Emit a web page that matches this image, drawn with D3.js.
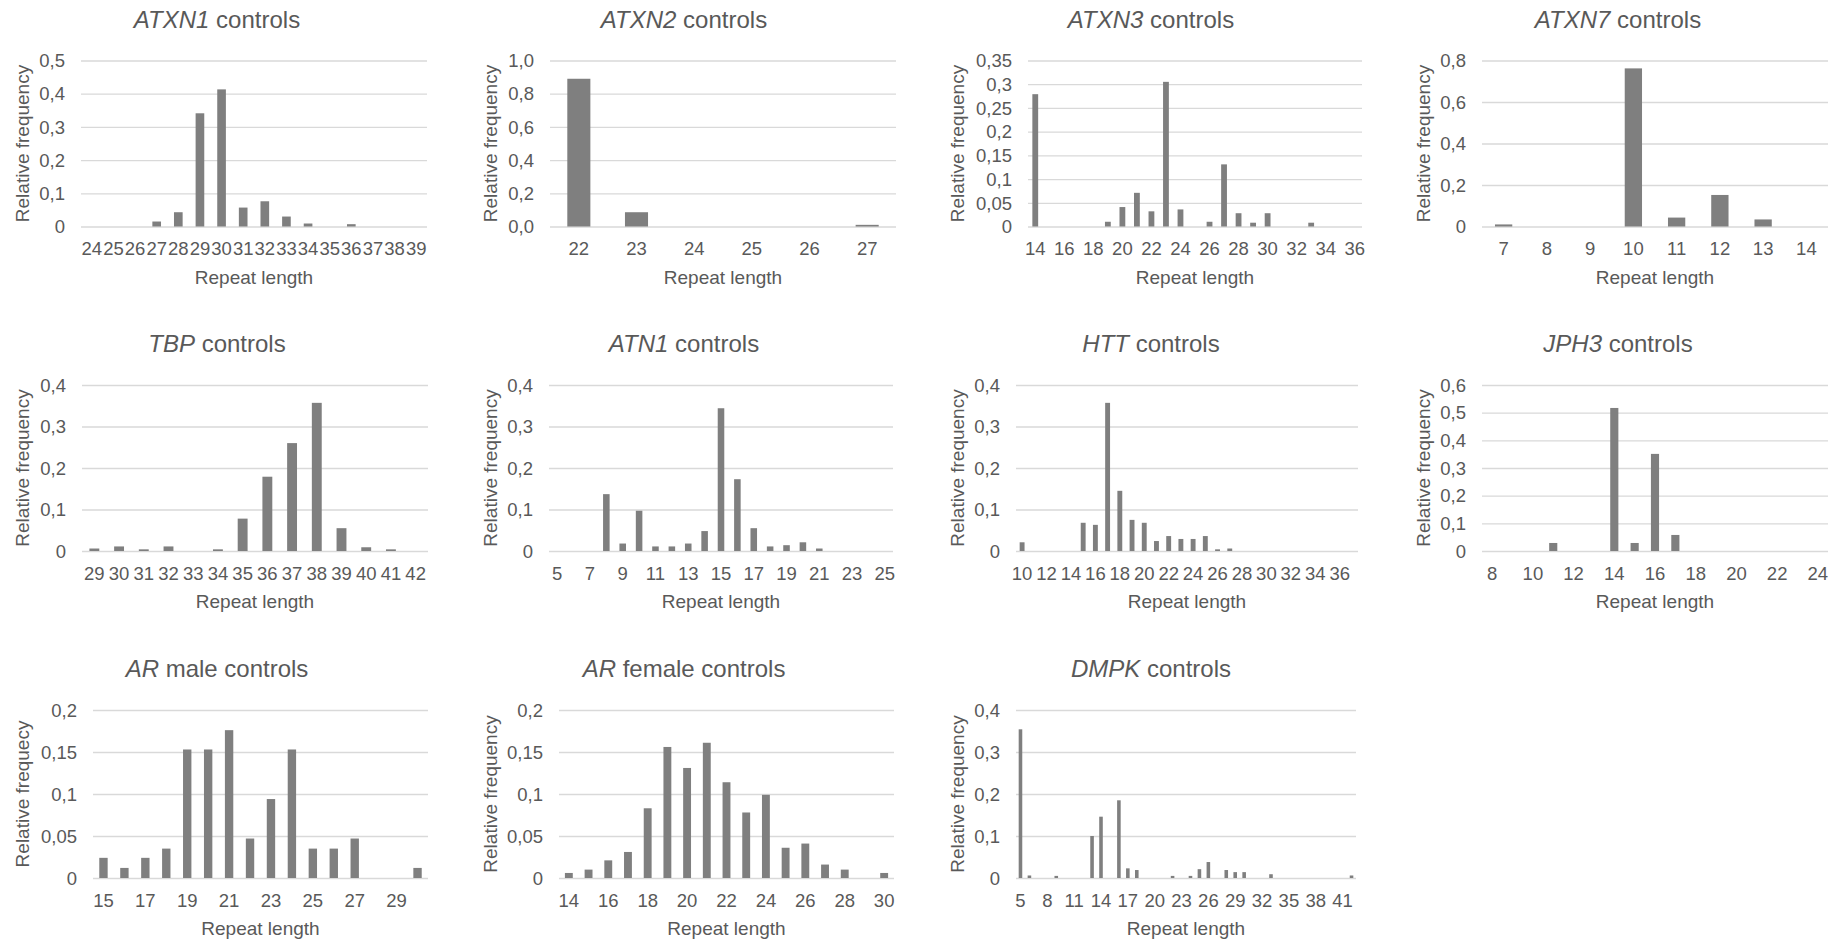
<!DOCTYPE html>
<html lang="en">
<head>
<meta charset="utf-8">
<title>Repeat length distributions in controls</title>
<script src="https://d3js.org/d3.v7.min.js"></script>
<style>
  body { margin: 0; background: #fff; }
  svg { display: block; font-family: "Liberation Sans", Arial, sans-serif; }
  .grid line { stroke: #d9d9d9; stroke-width: 1.3; }
  .grid path, .xaxis path { display: none; }
  .grid text, .xaxis text { fill: #595959; font-size: 18.5px; }
  .xaxis line { display: none; }
  .title { fill: #595959; font-size: 24px; }
  .axis-title { fill: #595959; font-size: 19px; }
  .bar { fill: #7f7f7f; }
</style>
</head>
<body>
<script>
// ---- data ----
const atxn1Lengths = [24,25,26,27,28,29,30,31,32,33,34,35,36,37,38,39];
const atxn1Freq = [0,0,0,0.015,0.043,0.341,0.413,0.057,0.076,0.030,0.009,0,0.007,0,0,0];

const atxn2Lengths = [22,23,24,25,26,27];
const atxn2Freq = [0.89,0.086,0,0,0,0.010];

const atxn3Lengths = [14,15,16,17,18,19,20,21,22,23,24,25,26,27,28,29,30,31,32,33,34,35,36];
const atxn3Freq = [0.279,0,0,0,0,0.010,0.041,0.071,0.032,0.305,0.036,0,0.010,0.131,0.028,0.008,0.028,0,0,0.008,0,0,0];

const atxn7Lengths = [7,8,9,10,11,12,13,14];
const atxn7Freq = [0.010,0,0,0.762,0.043,0.152,0.034,0];

const tbpLengths = [29,30,31,32,33,34,35,36,37,38,39,40,41,42];
const tbpFreq = [0.006,0.011,0.004,0.011,0,0.004,0.078,0.179,0.260,0.357,0.055,0.009,0.004,0];

const atn1Lengths = [5,6,7,8,9,10,11,12,13,14,15,16,17,18,19,20,21,22,23,24,25];
const atn1Freq = [0,0,0,0.137,0.018,0.097,0.011,0.011,0.018,0.048,0.344,0.173,0.055,0.011,0.014,0.021,0.006,0,0,0,0];

const httLengths = [10,11,12,13,14,15,16,17,18,19,20,21,22,23,24,25,26,27,28,29,30,31,32,33,34,35,36,37];
const httFreq = [0.021,0,0,0,0,0.068,0.063,0.357,0.145,0.075,0.068,0.024,0.036,0.029,0.029,0.036,0.004,0.006,0,0,0,0,0,0,0,0,0,0];

const jph3Lengths = [8,9,10,11,12,13,14,15,16,17,18,19,20,21,22,23,24];
const jph3Freq = [0,0,0,0.029,0,0,0.517,0.029,0.351,0.058,0,0,0,0,0,0,0];

const arMaleLengths = [15,16,17,18,19,20,21,22,23,24,25,26,27,28,29,30];
const arMaleFreq = [0.024,0.012,0.024,0.035,0.153,0.153,0.176,0.047,0.094,0.153,0.035,0.035,0.047,0,0,0.012];

const arFemaleLengths = [14,15,16,17,18,19,20,21,22,23,24,25,26,27,28,29,30];
const arFemaleFreq = [0.006,0.010,0.021,0.031,0.083,0.156,0.131,0.161,0.114,0.078,0.099,0.036,0.041,0.016,0.010,0,0.006];

const dmpkLengths = [5,6,7,8,9,10,11,12,13,14,15,16,17,18,19,20,21,22,23,24,25,26,27,28,29,30,31,32,33,34,35,36,37,38,39,40,41,42];
const dmpkFreq = [0.354,0.006,0,0,0.005,0,0,0,0.100,0.146,0,0.185,0.023,0.019,0,0,0,0.005,0,0.005,0.021,0.038,0,0.019,0.014,0.014,0,0,0.009,0,0,0,0,0,0,0,0,0.006];

// tick labels
const yTicks01 = [0,0.1,0.2,0.3,0.4];
const yLabels01 = ["0","0,1","0,2","0,3","0,4"];
const atxn1YTicks = [0,0.1,0.2,0.3,0.4,0.5];
const atxn1YLabels = ["0","0,1","0,2","0,3","0,4","0,5"];
const atxn2YTicks = [0,0.2,0.4,0.6,0.8,1.0];
const atxn2YLabels = ["0,0","0,2","0,4","0,6","0,8","1,0"];
const atxn3YTicks = [0,0.05,0.1,0.15,0.2,0.25,0.3,0.35];
const atxn3YLabels = ["0","0,05","0,1","0,15","0,2","0,25","0,3","0,35"];
const atxn7YTicks = [0,0.2,0.4,0.6,0.8];
const atxn7YLabels = ["0","0,2","0,4","0,6","0,8"];
const jph3YTicks = [0,0.1,0.2,0.3,0.4,0.5,0.6];
const jph3YLabels = ["0","0,1","0,2","0,3","0,4","0,5","0,6"];
const arYTicks = [0,0.05,0.1,0.15,0.2];
const arYLabels = ["0","0,05","0,1","0,15","0,2"];

const atxn3XTicks = [14,16,18,20,22,24,26,28,30,32,34,36];
const atn1XTicks = [5,7,9,11,13,15,17,19,21,23,25];
const httXTicks = [10,12,14,16,18,20,22,24,26,28,30,32,34,36];
const jph3XTicks = [8,10,12,14,16,18,20,22,24];
const arMaleXTicks = [15,17,19,21,23,25,27,29];
const arFemaleXTicks = [14,16,18,20,22,24,26,28,30];
const dmpkXTicks = [5,8,11,14,17,20,23,26,29,32,35,38,41];

// ---- panels ----
const panels = [
  {gene: "ATXN1", rest: " controls", ylab: "Relative frequency", x: atxn1Lengths, y: atxn1Freq, yt: atxn1YTicks, yl: atxn1YLabels, xt: atxn1Lengths, row: 0, col: 0, left: 81, right: 427},
  {gene: "ATXN2", rest: " controls", ylab: "Relative frequency", x: atxn2Lengths, y: atxn2Freq, yt: atxn2YTicks, yl: atxn2YLabels, xt: atxn2Lengths, row: 0, col: 1, left: 550, right: 896},
  {gene: "ATXN3", rest: " controls", ylab: "Relative frequency", x: atxn3Lengths, y: atxn3Freq, yt: atxn3YTicks, yl: atxn3YLabels, xt: atxn3XTicks, row: 0, col: 2, left: 1028, right: 1362},
  {gene: "ATXN7", rest: " controls", ylab: "Relative frequency", x: atxn7Lengths, y: atxn7Freq, yt: atxn7YTicks, yl: atxn7YLabels, xt: atxn7Lengths, row: 0, col: 3, left: 1482, right: 1828},
  {gene: "TBP", rest: " controls", ylab: "Relative frequency", x: tbpLengths, y: tbpFreq, yt: yTicks01, yl: yLabels01, xt: tbpLengths, row: 1, col: 0, left: 82, right: 428},
  {gene: "ATN1", rest: " controls", ylab: "Relative frequency", x: atn1Lengths, y: atn1Freq, yt: yTicks01, yl: yLabels01, xt: atn1XTicks, row: 1, col: 1, left: 549, right: 893},
  {gene: "HTT", rest: " controls", ylab: "Relative frequency", x: httLengths, y: httFreq, yt: yTicks01, yl: yLabels01, xt: httXTicks, row: 1, col: 2, left: 1016, right: 1358},
  {gene: "JPH3", rest: " controls", ylab: "Relative frequency", x: jph3Lengths, y: jph3Freq, yt: jph3YTicks, yl: jph3YLabels, xt: jph3XTicks, row: 1, col: 3, left: 1482, right: 1828},
  {gene: "AR", rest: " male controls", ylab: "Relative frequecy", x: arMaleLengths, y: arMaleFreq, yt: arYTicks, yl: arYLabels, xt: arMaleXTicks, row: 2, col: 0, left: 93, right: 428},
  {gene: "AR", rest: " female controls", ylab: "Relative frequency", x: arFemaleLengths, y: arFemaleFreq, yt: arYTicks, yl: arYLabels, xt: arFemaleXTicks, row: 2, col: 1, left: 559, right: 894},
  {gene: "DMPK", rest: " controls", ylab: "Relative frequency", x: dmpkLengths, y: dmpkFreq, yt: yTicks01, yl: yLabels01, xt: dmpkXTicks, row: 2, col: 2, left: 1016, right: 1356}
];

const rowTop = [60.5, 385, 710];
const rowBottom = [226.5, 551, 878];
const colTitleX = [217, 684, 1151, 1618];
const colYTitleX = [22, 490, 957, 1423];

const svg = d3.select("body").append("svg")
  .attr("width", 1845)
  .attr("height", 941);

panels.forEach(function(p) {
  const top = rowTop[p.row], bottom = rowBottom[p.row];
  const w = p.right - p.left;
  const g = svg.append("g").attr("transform", "translate(" + p.left + ",0)");

  const xScale = d3.scaleBand()
    .domain(p.x)
    .range([0, w])
    .paddingInner(0.6)
    .paddingOuter(0.3);
  const yScale = d3.scaleLinear()
    .domain([0, d3.max(p.yt)])
    .range([bottom, top]);

  // gridlines + y labels
  g.append("g")
    .attr("class", "grid")
    .call(d3.axisLeft(yScale)
      .tickValues(p.yt)
      .tickFormat((d, i) => p.yl[i])
      .tickSize(-w)
      .tickPadding(16))
    .selectAll("text").attr("dy", "0.34em");

  // bars
  g.selectAll("rect")
    .data(p.x.map((len, i) => ({len: len, f: p.y[i]})))
    .enter()
    .append("rect")
    .attr("class", "bar")
    .attr("x", d => xScale(d.len))
    .attr("y", d => yScale(d.f))
    .attr("width", xScale.bandwidth())
    .attr("height", d => bottom - yScale(d.f));

  // x labels
  g.append("g")
    .attr("class", "xaxis")
    .attr("transform", "translate(0," + bottom + ")")
    .call(d3.axisBottom(xScale).tickValues(p.xt).tickSize(0).tickPadding(15.5));

  // chart title
  const t = svg.append("text")
    .attr("class", "title")
    .attr("text-anchor", "middle")
    .attr("x", colTitleX[p.col])
    .attr("y", top - 33);
  t.append("tspan").attr("font-style", "italic").text(p.gene);
  t.append("tspan").text(p.rest);

  // axis titles
  svg.append("text")
    .attr("class", "axis-title")
    .attr("text-anchor", "middle")
    .attr("x", p.left + w / 2)
    .attr("y", bottom + 57)
    .text("Repeat length");

  svg.append("text")
    .attr("class", "axis-title")
    .attr("text-anchor", "middle")
    .attr("transform", "translate(" + colYTitleX[p.col] + "," + (top + bottom) / 2 + ") rotate(-90)")
    .attr("dy", "0.35em")
    .text(p.ylab);
});
</script>
</body>
</html>
